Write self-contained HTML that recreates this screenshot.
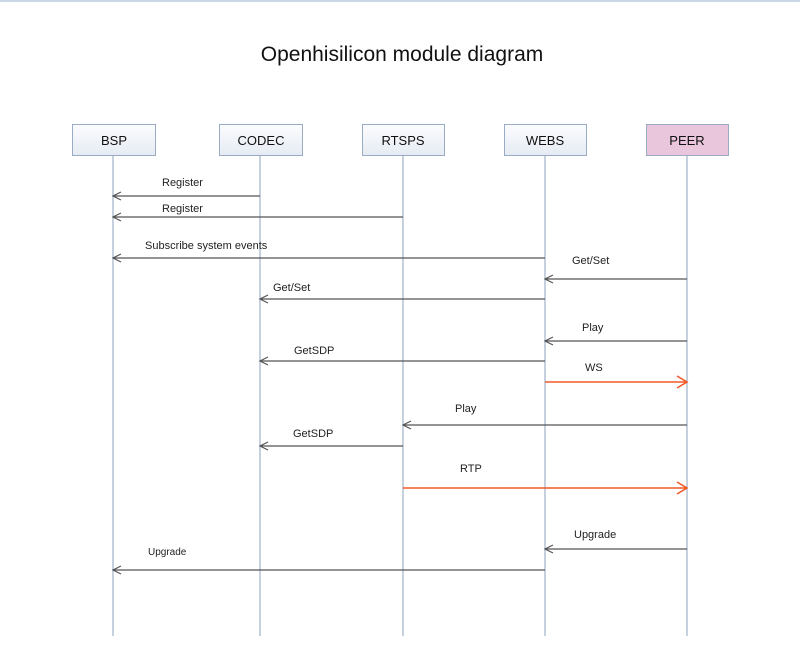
<!DOCTYPE html>
<html><head><style>body{margin:0;background:#fff}</style></head><body>
<svg width="800" height="660" xmlns="http://www.w3.org/2000/svg" font-family="Liberation Sans, sans-serif">
<defs>
<linearGradient id="g" x1="0" y1="0" x2="0" y2="1"><stop offset="0" stop-color="#fbfcfe"/><stop offset="1" stop-color="#e6ebf3"/></linearGradient>
</defs>
<rect x="0" y="0" width="800" height="2" fill="#c9d6e6"/>
<text x="402" y="61" font-size="21" text-anchor="middle" fill="#111">Openhisilicon module  diagram</text>
<g stroke="#9fb0c8" stroke-width="1.2">
<line x1="113" y1="155" x2="113" y2="636"/><line x1="260" y1="155" x2="260" y2="636"/><line x1="403" y1="155" x2="403" y2="636"/><line x1="545" y1="155" x2="545" y2="636"/><line x1="687" y1="155" x2="687" y2="636"/>
</g>
<g stroke="#9aabc4" stroke-width="1" fill="url(#g)">
<rect x="72.5" y="124.5" width="83" height="31"/><rect x="219.5" y="124.5" width="83" height="31"/><rect x="362.5" y="124.5" width="82" height="31"/><rect x="504.5" y="124.5" width="82" height="31"/><rect x="646.5" y="124.5" width="82" height="31" fill="#eac6dd"/>
</g>
<g font-size="13" text-anchor="middle" fill="#111">
<text x="114" y="145">BSP</text><text x="261" y="145">CODEC</text><text x="403" y="145">RTSPS</text><text x="545" y="145">WEBS</text><text x="687" y="145">PEER</text>
</g>
<g stroke="#555" stroke-width="1.2" fill="none">
<path d="M260 196H113M121 192l-8 4 8 4"/>
<path d="M403 217H113M121 213l-8 4 8 4"/>
<path d="M545 258H113M121 254l-8 4 8 4"/>
<path d="M687 279H545M553 275l-8 4 8 4"/>
<path d="M545 299H260M268 295l-8 4 8 4"/>
<path d="M687 341H545M553 337l-8 4 8 4"/>
<path d="M545 361H260M268 357l-8 4 8 4"/>
<path d="M687 425H403M411 421l-8 4 8 4"/>
<path d="M403 446H260M268 442l-8 4 8 4"/>
<path d="M687 549H545M553 545l-8 4 8 4"/>
<path d="M545 570H113M121 566l-8 4 8 4"/>
</g>
<g stroke="#f05a28" stroke-width="1.6" fill="none">
<path d="M545 382H687M677 376l10 6-10 6"/>
<path d="M403 488H687M677 482l10 6-10 6"/>
</g>
<g font-size="11" fill="#222">
<text x="162" y="186">Register</text><text x="162" y="212">Register</text><text x="145" y="249">Subscribe system events</text>
<text x="572" y="264">Get/Set</text><text x="273" y="291">Get/Set</text><text x="582" y="331">Play</text>
<text x="294" y="354">GetSDP</text><text x="585" y="371">WS</text><text x="455" y="412">Play</text>
<text x="293" y="437">GetSDP</text><text x="460" y="472">RTP</text><text x="574" y="538">Upgrade</text><text x="148" y="555" font-size="10">Upgrade</text>
</g>
</svg>
</body></html>
